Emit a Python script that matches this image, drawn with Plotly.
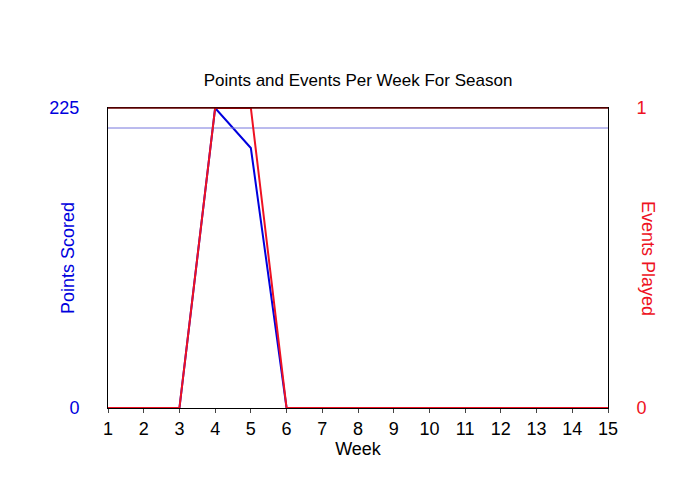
import plotly.graph_objects as go

weeks = list(range(1, 16))
points = [0, 0, 0, 225, 195, 0, 0, 0, 0, 0, 0, 0, 0, 0, 0]
events = [0, 0, 0, 1, 1, 0, 0, 0, 0, 0, 0, 0, 0, 0, 0]
avg_points = 210

fig = go.Figure()
fig.add_trace(go.Scatter(x=weeks, y=points, mode="lines", line=dict(color="#0000dd", width=2), yaxis="y"))
fig.add_trace(go.Scatter(x=weeks, y=events, mode="lines", line=dict(color="#ee1122", width=2), yaxis="y2"))
fig.add_trace(go.Scatter(x=[1, 15], y=[avg_points, avg_points], mode="lines", line=dict(color="#7777dd", width=1), yaxis="y"))

fig.update_layout(
    width=700, height=500, showlegend=False,
    paper_bgcolor="white", plot_bgcolor="white",
    margin=dict(l=100, r=100, t=100, b=100, autoexpand=False),
    font=dict(family="Liberation Sans, Arial", color="black"),
    title=dict(text="Points and Events Per Week For Season", x=0.5, xanchor="center", y=0.855, yanchor="middle", font=dict(size=17)),
    xaxis=dict(range=[1, 15], tickvals=weeks, showgrid=False, zeroline=False, automargin=False,
               title=dict(text="Week", font=dict(size=18), standoff=0),
               tickfont=dict(size=18), ticks="outside", ticklen=4, showline=True, linecolor="black", mirror=True),
    yaxis=dict(range=[0, 225], tickvals=[0, 225], showgrid=False, zeroline=False, automargin=False,
               tickfont=dict(size=18, color="#0000dd"), ticks="outside", ticklen=24, tickcolor="rgba(0,0,0,0)",
               showline=True, linecolor="black"),
    yaxis2=dict(range=[0, 1], tickvals=[0, 1], overlaying="y", side="right", showgrid=False, zeroline=False, automargin=False,
                tickfont=dict(size=18, color="#ee1122"), ticks="outside", ticklen=24, tickcolor="rgba(0,0,0,0)",
                showline=True, linecolor="black"),
    annotations=[
        dict(text="Points Scored", xref="paper", yref="paper", x=-0.08, y=0.5, textangle=-90,
             showarrow=False, xanchor="center", yanchor="middle", font=dict(size=18, color="#0000dd")),
        dict(text="Events Played", xref="paper", yref="paper", x=1.08, y=0.5, textangle=90,
             showarrow=False, xanchor="center", yanchor="middle", font=dict(size=18, color="#ee1122")),
    ],
)
fig.add_shape(type="line", xref="paper", yref="paper", x0=0, x1=1, y0=1, y1=1, line=dict(color="#660000", width=1.5))
fig.write_html("out.html")
